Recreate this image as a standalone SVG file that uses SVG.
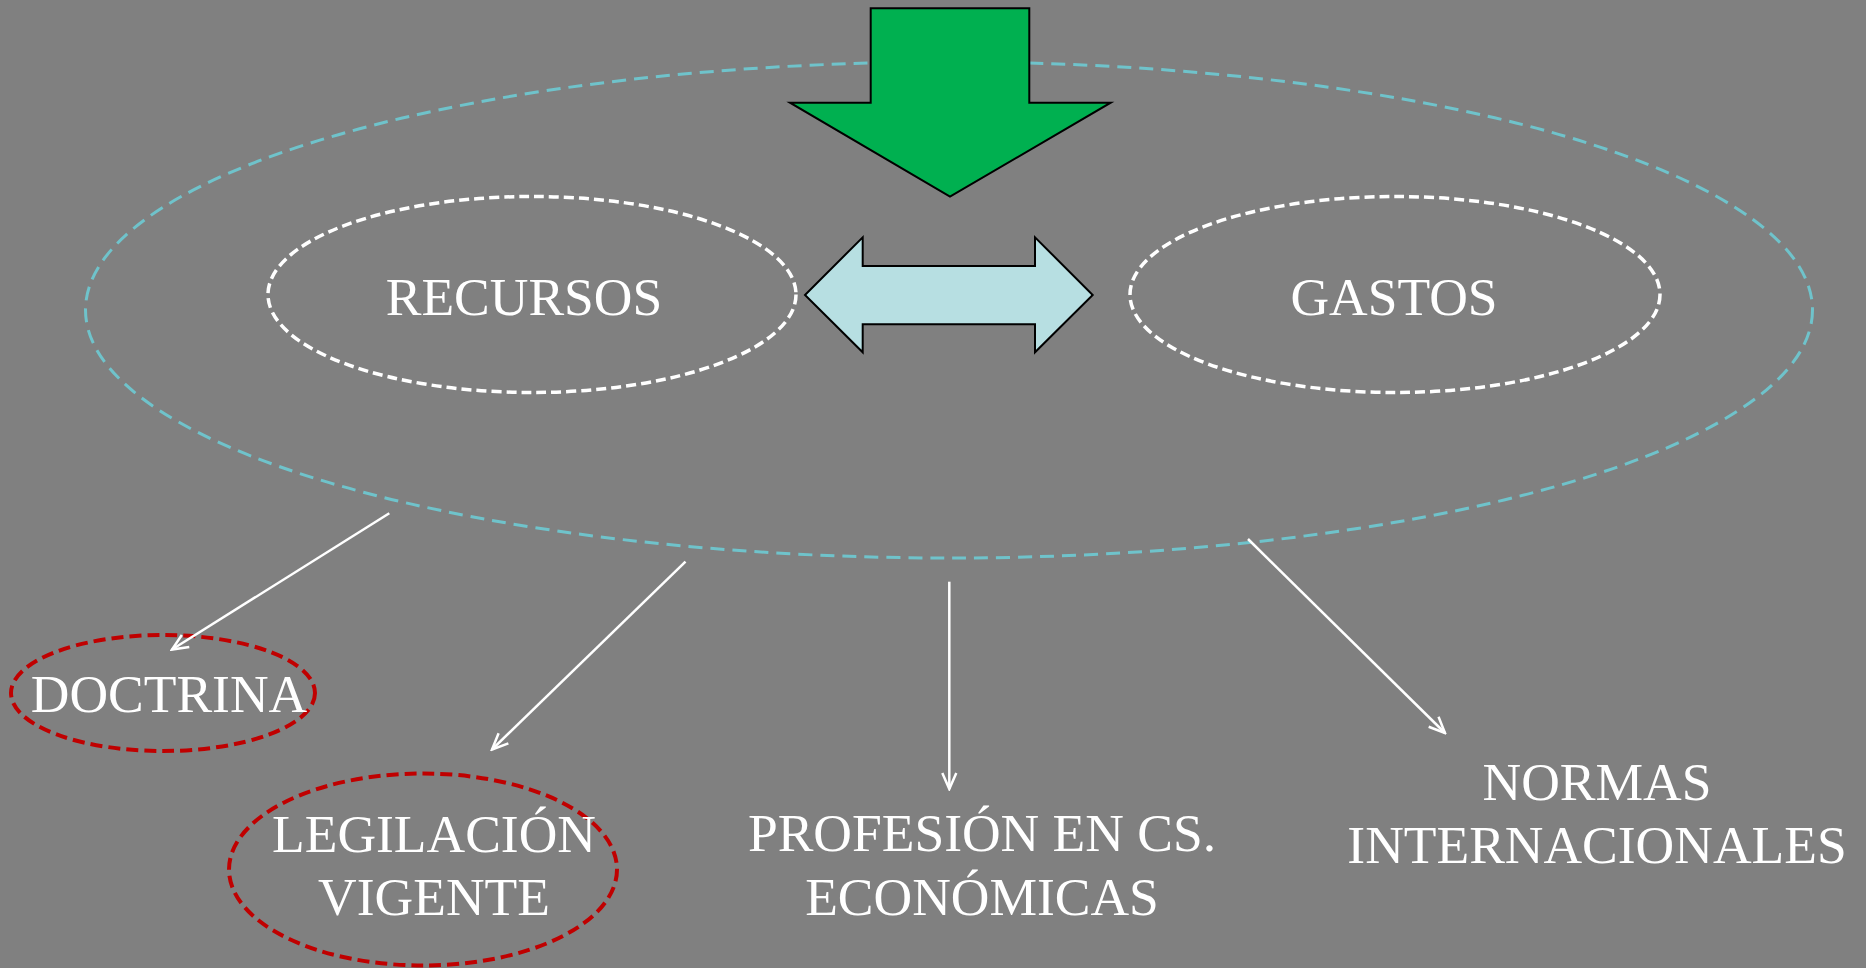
<svg xmlns="http://www.w3.org/2000/svg" width="1866" height="968" viewBox="0 0 1866 968">
<style>
.t{font-family:"Liberation Serif","Times New Roman",serif;font-size:53.5px;fill:#ffffff;text-anchor:middle}
.wd{fill:none;stroke:#ffffff;stroke-width:3.5;stroke-dasharray:10 5}
.rd{fill:none;stroke:#c00000;stroke-width:4;stroke-dasharray:12 6}
.cn{stroke:#ffffff;stroke-width:2.5;fill:none;marker-end:url(#ah)}
</style>
<defs>
<marker id="ah" viewBox="0 0 20 20" refX="18" refY="10" markerWidth="20" markerHeight="20" markerUnits="userSpaceOnUse" orient="auto">
<path d="M2,3 L18,10 L2,17" fill="none" stroke="#ffffff" stroke-width="2.5"/>
</marker>
</defs>
<rect width="1866" height="968" fill="#808080"/>
<g id="marco">
<ellipse cx="949" cy="310" rx="863.5" ry="248" fill="none" stroke="#6fc3cb" stroke-width="3" stroke-dasharray="14 8"/>
</g>
<g id="flecha-verde">
<polygon points="870.7,8.3 1029.3,8.3 1029.3,102.7 1110.7,102.7 950,196.7 790,102.7 870.7,102.7" fill="#00b050" stroke="#000000" stroke-width="2"/>
</g>
<g id="flecha-doble">
<polygon points="805,295 862.7,237.3 862.7,266 1035,266 1035,237.3 1092.7,295 1035,352.3 1035,324.3 862.7,324.3 862.7,352.3" fill="#b7dfe2" stroke="#000000" stroke-width="2"/>
</g>
<g id="recursos">
<ellipse class="wd" cx="532" cy="294.5" rx="264" ry="98"/>
<text class="t" x="524" y="315">RECURSOS</text>
</g>
<g id="gastos">
<ellipse class="wd" cx="1395" cy="294.5" rx="265" ry="98"/>
<text class="t" x="1394" y="315">GASTOS</text>
</g>
<g id="doctrina">
<ellipse class="rd" cx="163" cy="693" rx="152" ry="58"/>
<text class="t" x="169" y="711.5">DOCTRINA</text>
</g>
<g id="legislacion">
<ellipse class="rd" cx="423" cy="869.5" rx="194" ry="96"/>
<text class="t" x="434" y="851.5">LEGILACIÓN</text>
<text class="t" x="434" y="915">VIGENTE</text>
</g>
<g id="profesion">
<text class="t" x="982" y="851">PROFESIÓN EN CS.</text>
<text class="t" x="982" y="915">ECONÓMICAS</text>
</g>
<g id="normas">
<text class="t" x="1597" y="800">NORMAS</text>
<text class="t" x="1597" y="863.3">INTERNACIONALES</text>
</g>
<g id="conectores">
<line class="cn" x1="389.3" y1="513.3" x2="172" y2="649.5"/>
<line class="cn" x1="685.5" y1="561.7" x2="492" y2="749.5"/>
<line class="cn" x1="949.3" y1="581.7" x2="949.3" y2="789"/>
<line class="cn" x1="1248" y1="539" x2="1445" y2="733"/>
</g>
</svg>
